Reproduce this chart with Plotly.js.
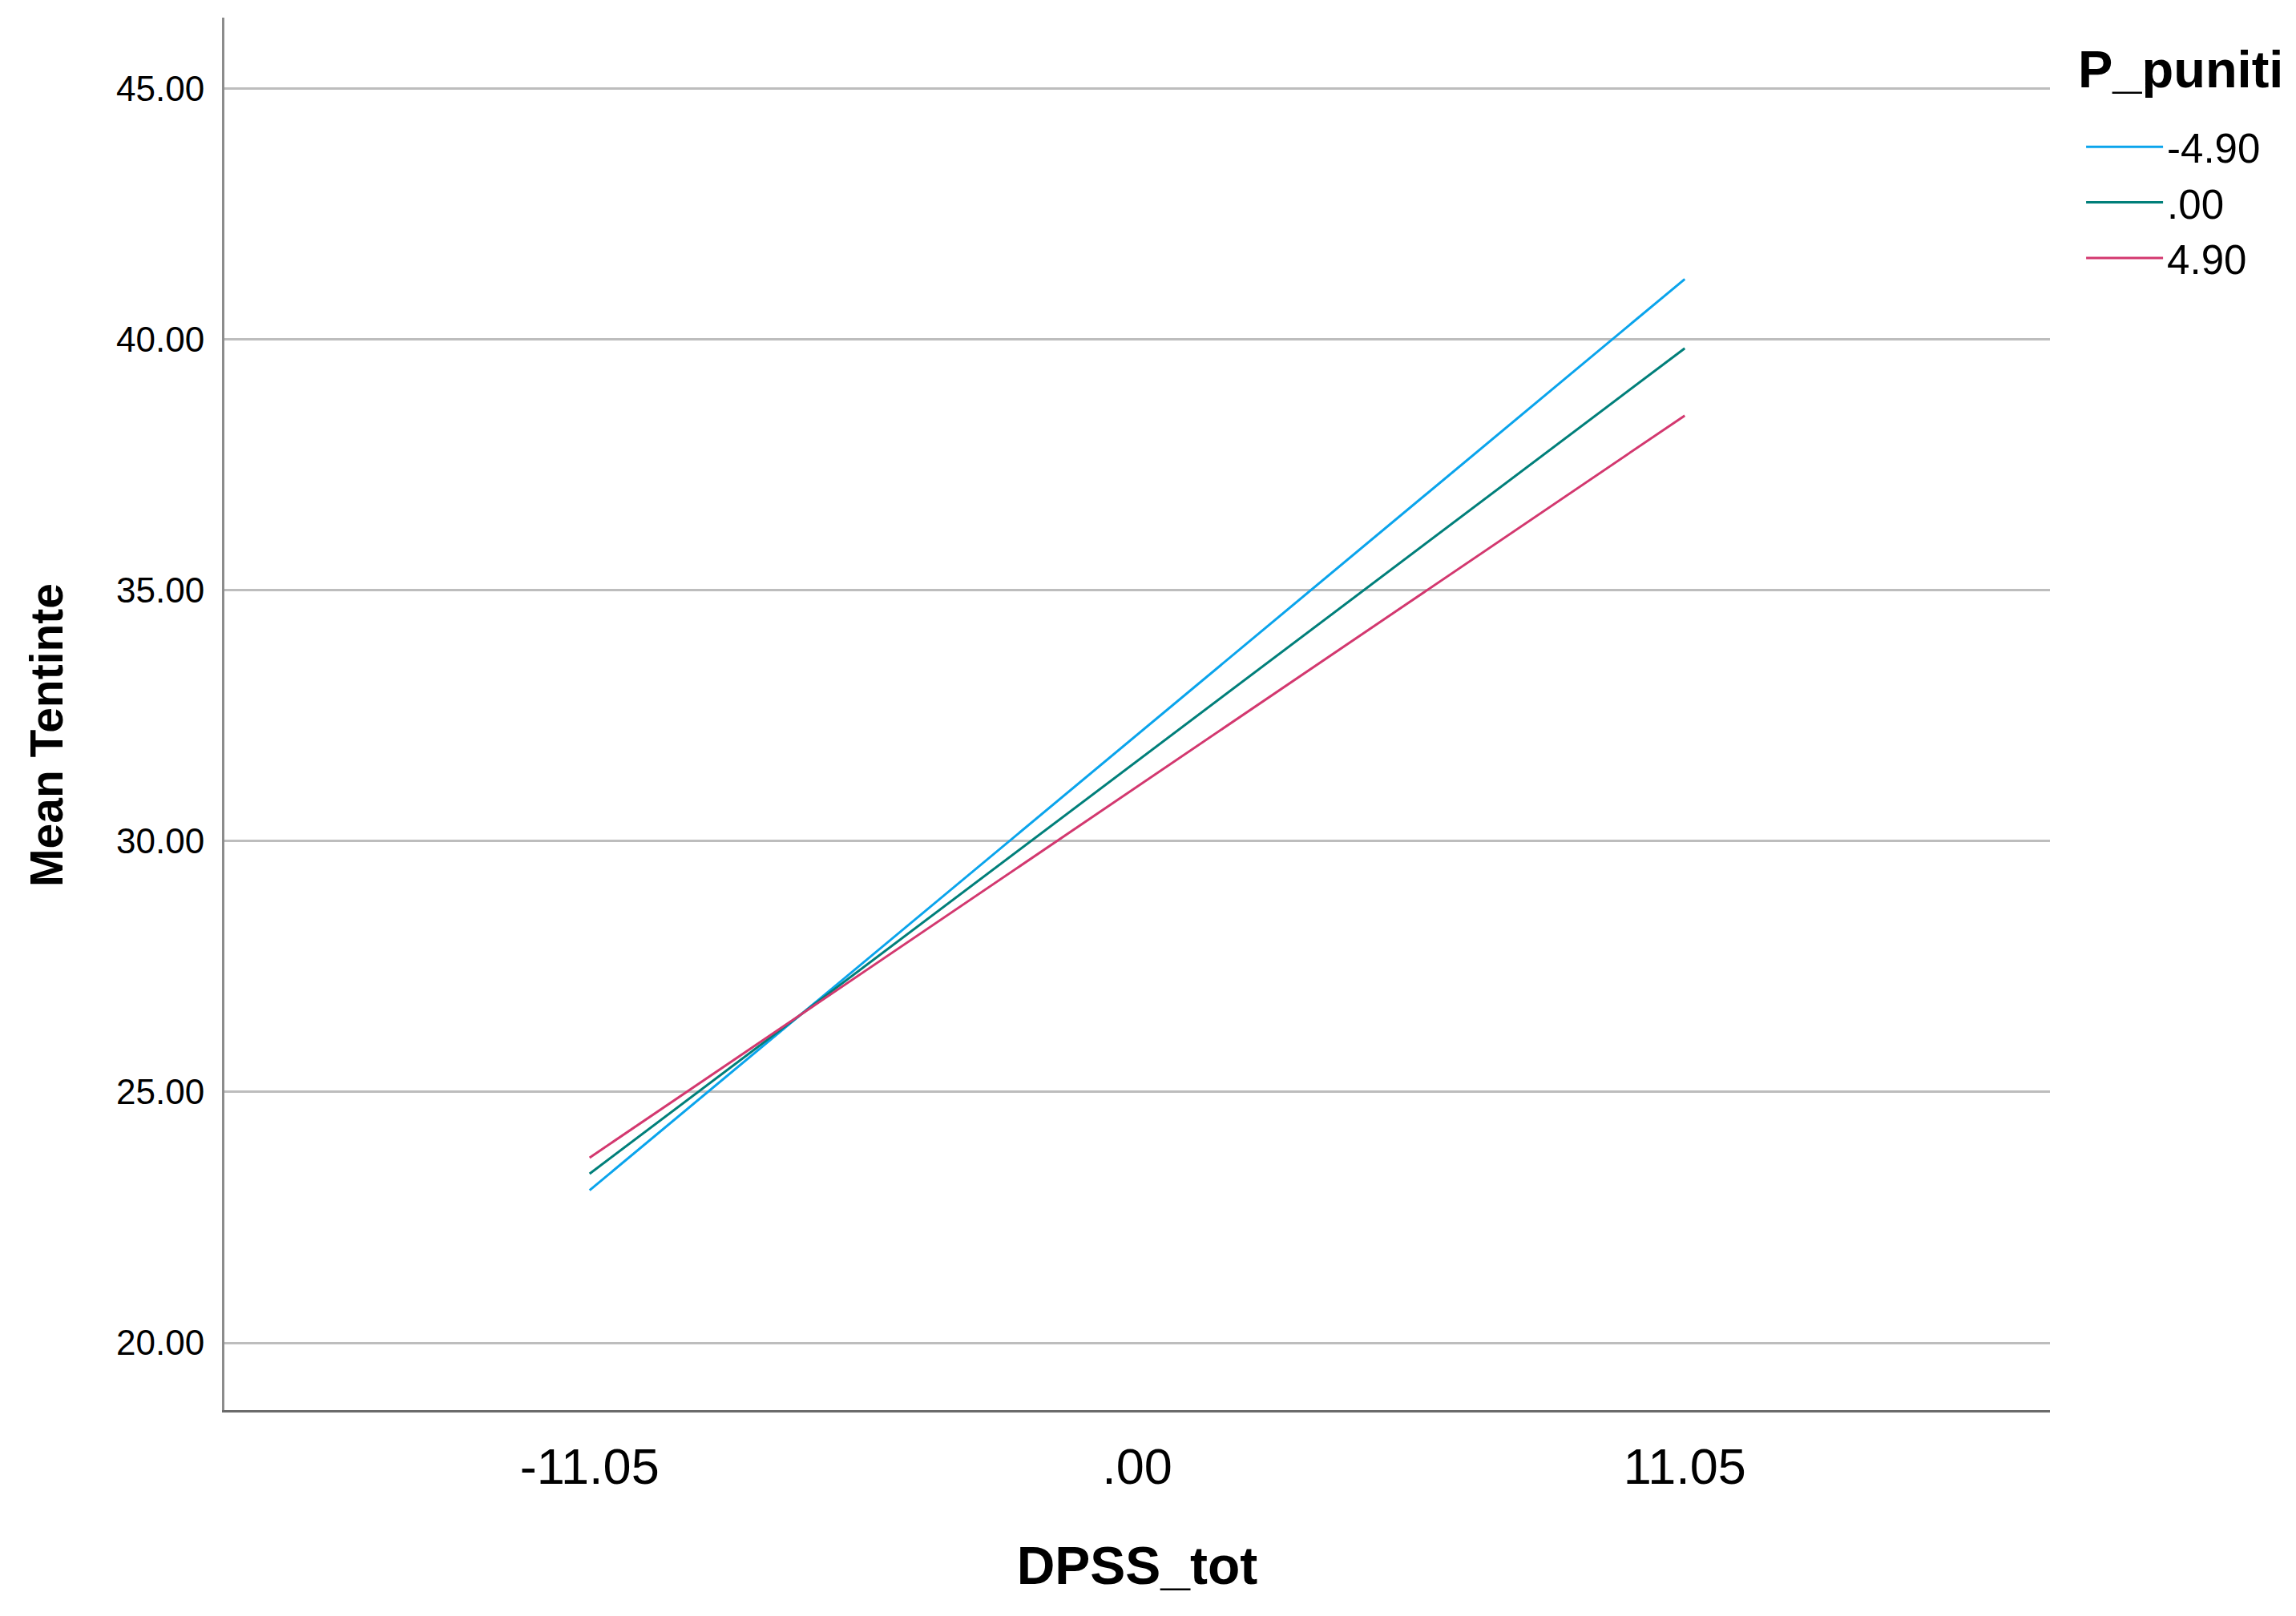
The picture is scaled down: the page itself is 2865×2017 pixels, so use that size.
<!DOCTYPE html>
<html>
<head>
<meta charset="utf-8">
<script src="https://cdn.plot.ly/plotly-3.0.1.min.js"></script>
<style>
  html, body { margin: 0; padding: 0; background: #fff; }
  #chart { width: 2865px; height: 2017px; }
</style>
</head>
<body>
<div id="chart"></div>
<script>
// DPSS_tot at -1 SD / +1 SD
const dpssX = [-11.05, 11.05];
const xTickVals = [-11.05, 0, 11.05];
const xTickText = ['-11.05', '.00', '11.05'];

// P_puniti groups and the predicted Mean Tentinte at each end
const groupNames = ['-4.90', '.00', '4.90'];
const lowPunitiY = [23.04, 41.20];
const midPunitiY = [23.37, 39.82];
const highPunitiY = [23.69, 38.48];
const lineColors = ['#0aa4ec', '#007f7a', '#d3386f'];

const yTickVals = [20, 25, 30, 35, 40, 45];

const fontFam = '"Liberation Sans", Arial, sans-serif';

//----------------------------------TRACES----------------------------------//

const series = [lowPunitiY, midPunitiY, highPunitiY];
const traces = series.map((ys, i) => ({
  type: 'scatter',
  mode: 'lines',
  name: groupNames[i],
  x: dpssX,
  y: ys,
  line: { color: lineColors[i], width: 3 },
  hoverinfo: 'x+y+name'
}));

//----------------------------------LAYOUT----------------------------------//

const layout = {
  width: 2865,
  height: 2017,
  paper_bgcolor: '#ffffff',
  plot_bgcolor: '#ffffff',
  margin: { l: 280, r: 307, t: 22, b: 257 },
  font: { family: fontFam, color: '#000' },
  showlegend: true,
  xaxis: {
    range: [-18.42, 18.42],
    tickvals: xTickVals,
    ticktext: xTickText,
    tickfont: { size: 63, family: fontFam, color: '#000' },
    ticks: '',
    ticklabelstandoff: 13,
    showgrid: false,
    zeroline: false,
    showline: true,
    linecolor: '#6b6b6b',
    linewidth: 3,
    title: {
      text: 'DPSS_tot',
      font: { size: 66, family: fontFam, color: '#000', weight: 'bold' },
      standoff: 68
    }
  },
  yaxis: {
    range: [18.66, 46.41],
    tickvals: yTickVals,
    tickformat: '.2f',
    tickfont: { size: 44, family: fontFam, color: '#000' },
    ticks: '',
    ticklabelstandoff: 13,
    showgrid: true,
    gridcolor: '#bdbdbd',
    gridwidth: 3,
    zeroline: false,
    showline: true,
    linecolor: '#8c8c8c',
    linewidth: 3
  },
  annotations: [
    {
      // y title, sits a bit below the plot centre like the original
      text: 'Mean Tentinte',
      textangle: -90,
      xref: 'paper', yref: 'paper',
      x: -0.0975, y: 0.485,
      xanchor: 'center', yanchor: 'middle',
      showarrow: false,
      font: { size: 57, family: fontFam, color: '#000', weight: 'bold' }
    },
    {
      // legend title
      text: 'P_puniti',
      xref: 'paper', yref: 'paper',
      x: 1.0145, y: 0.963,
      xanchor: 'left', yanchor: 'middle',
      showarrow: false,
      font: { size: 65, family: fontFam, color: '#000', weight: 'bold' }
    }
  ],
  legend: {
    x: 1.0176,
    xanchor: 'left',
    y: 0.93,
    yanchor: 'top',
    bgcolor: 'rgba(0,0,0,0)',
    borderwidth: 0,
    itemwidth: 96,
    font: { size: 51, family: fontFam, color: '#000' },
    tracegroupgap: 0
  }
};

Plotly.newPlot('chart', traces, layout, { staticPlot: true });
</script>
</body>
</html>
